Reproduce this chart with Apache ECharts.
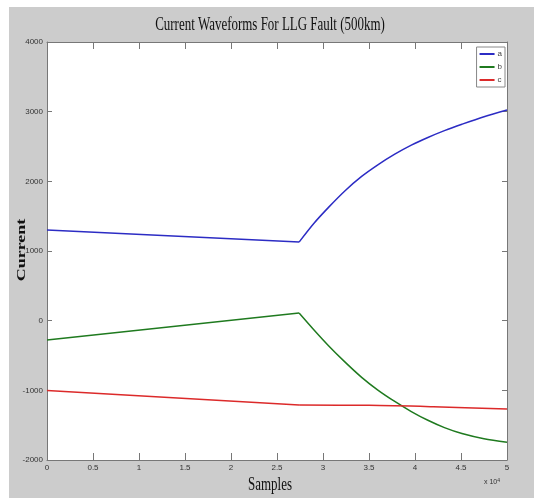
<!DOCTYPE html>
<html>
<head>
<meta charset="utf-8">
<script src="https://cdn.jsdelivr.net/npm/echarts@6/dist/echarts.min.js"></script>
<style>
  html, body { margin: 0; padding: 0; background: #fff; }
  #chart { width: 534px; height: 498px; }
</style>
</head>
<body>
<div id="chart"></div>
<script>
// samples are in units of 10^4; index 1 is the fault instant (kink)
const seriesNames = ['a', 'b', 'c'];
const colors = ['#2c2cc4', '#1f7a1f', '#dc2a2a'];

const aSamples = [0, 2.74, 2.9, 3.06, 3.24, 3.42, 3.6, 3.78, 3.96, 4.14, 4.32, 4.51, 4.75, 5.0];
const aValues = [1301, 1128, 1395, 1626, 1865, 2070, 2240, 2390, 2520, 2630, 2728, 2820, 2928, 3023];

const bSamples = [0, 2.74, 2.9, 3.06, 3.24, 3.42, 3.6, 3.78, 3.96, 4.14, 4.32, 4.51, 4.75, 5.0];
const bValues = [-277, 110, -130, -359, -595, -813, -1000, -1160, -1305, -1430, -1535, -1620, -1695, -1746];

const cSamples = [0, 2.74, 3.5, 4.2, 5.0];
const cValues = [-1004, -1212, -1215, -1235, -1267];

const xTicks = { min: 0, max: 5, interval: 0.5 };
const yTicks = { min: -2000, max: 4000, interval: 1000 };

function pairs(xs, ys) {
  return xs.map((x, i) => [x, ys[i]]);
}

const tickFont = {
  fontFamily: 'Liberation Sans Narrow, Liberation Sans, sans-serif',
  fontSize: 8,
  color: '#333',
};
const axisLine = { show: true, onZero: false, lineStyle: { color: '#777', width: 1 } };

// straight pre-fault segment + smooth post-fault curve, same legend name
function makeSeries(name, color, xs, ys) {
  const pts = pairs(xs, ys);
  const base = { name, type: 'line', showSymbol: false, color, lineStyle: { width: 1.5, color } };
  return [
    { ...base, data: pts.slice(0, 2) },
    { ...base, data: pts.slice(1), smooth: 0.3 },
  ];
}

const chart = echarts.init(document.getElementById('chart'));
chart.setOption({
  animation: false,
  backgroundColor: '#fff',
  grid: {
    left: 47,
    right: 27,
    top: 42,
    bottom: 38,
    show: true,
    backgroundColor: '#fff',
    borderWidth: 0,
  },
  graphic: [
    {
      type: 'rect',
      z: -100,
      silent: true,
      shape: { x: 9, y: 7, width: 525, height: 491 },
      style: { fill: '#cccccc' },
    },
    {
      type: 'text',
      x: 270,
      y: 25,
      scaleX: 0.72,
      style: {
        text: 'Current Waveforms For LLG Fault (500km)',
        font: '18px "Liberation Serif", serif',
        fill: '#111',
        align: 'center',
        verticalAlign: 'middle',
      },
    },
    {
      type: 'text',
      x: 270,
      y: 485,
      scaleX: 0.72,
      style: {
        text: 'Samples',
        font: '18px "Liberation Serif", serif',
        fill: '#111',
        align: 'center',
        verticalAlign: 'middle',
      },
    },
    {
      type: 'text',
      x: 22,
      y: 250,
      rotation: Math.PI / 2,
      scaleY: 0.75,
      style: {
        text: 'Current',
        font: 'bold 18px "Liberation Serif", serif',
        fill: '#111',
        align: 'center',
        verticalAlign: 'middle',
      },
    },
    {
      type: 'text',
      x: 484,
      y: 478,
      style: {
        text: 'x 10{s|4}',
        font: '7px "Liberation Sans", sans-serif',
        fill: '#333',
        rich: { s: { fontSize: 5, verticalAlign: 'top', padding: [0, 0, 4, 0] } },
      },
    },
  ],
  legend: {
    data: seriesNames,
    orient: 'vertical',
    right: 29,
    top: 47,
    icon: 'rect',
    itemWidth: 15,
    itemHeight: 2,
    itemGap: 3,
    padding: [2, 3, 2, 3],
    borderColor: '#888',
    borderWidth: 1,
    borderRadius: 0,
    backgroundColor: '#fff',
    textStyle: { fontFamily: 'Liberation Sans, sans-serif', fontSize: 8, lineHeight: 10, color: '#444', padding: [0, 0, 0, -2] },
  },
  xAxis: [
    {
      type: 'value',
      ...xTicks,
      position: 'bottom',
      axisLine,
      axisTick: { show: true, inside: true, length: 7, lineStyle: { color: '#777' } },
      axisLabel: { ...tickFont, margin: 4, formatter: v => String(v) },
      splitLine: { show: false },
    },
    {
      type: 'value',
      ...xTicks,
      position: 'top',
      axisLine,
      axisTick: { show: true, inside: true, length: 7, lineStyle: { color: '#777' } },
      axisLabel: { show: false },
      splitLine: { show: false },
    },
  ],
  yAxis: [
    {
      type: 'value',
      ...yTicks,
      position: 'left',
      axisLine,
      axisTick: { show: true, inside: true, length: 5, lineStyle: { color: '#777' } },
      axisLabel: { ...tickFont, margin: 4, formatter: v => String(v) },
      splitLine: { show: false },
    },
    {
      type: 'value',
      ...yTicks,
      position: 'right',
      axisLine,
      axisTick: { show: true, inside: true, length: 5, lineStyle: { color: '#777' } },
      axisLabel: { show: false },
      splitLine: { show: false },
    },
  ],
  series: [
    ...makeSeries('a', colors[0], aSamples, aValues),
    ...makeSeries('b', colors[1], bSamples, bValues),
    ...makeSeries('c', colors[2], cSamples, cValues),
  ],
});
</script>
</body>
</html>
